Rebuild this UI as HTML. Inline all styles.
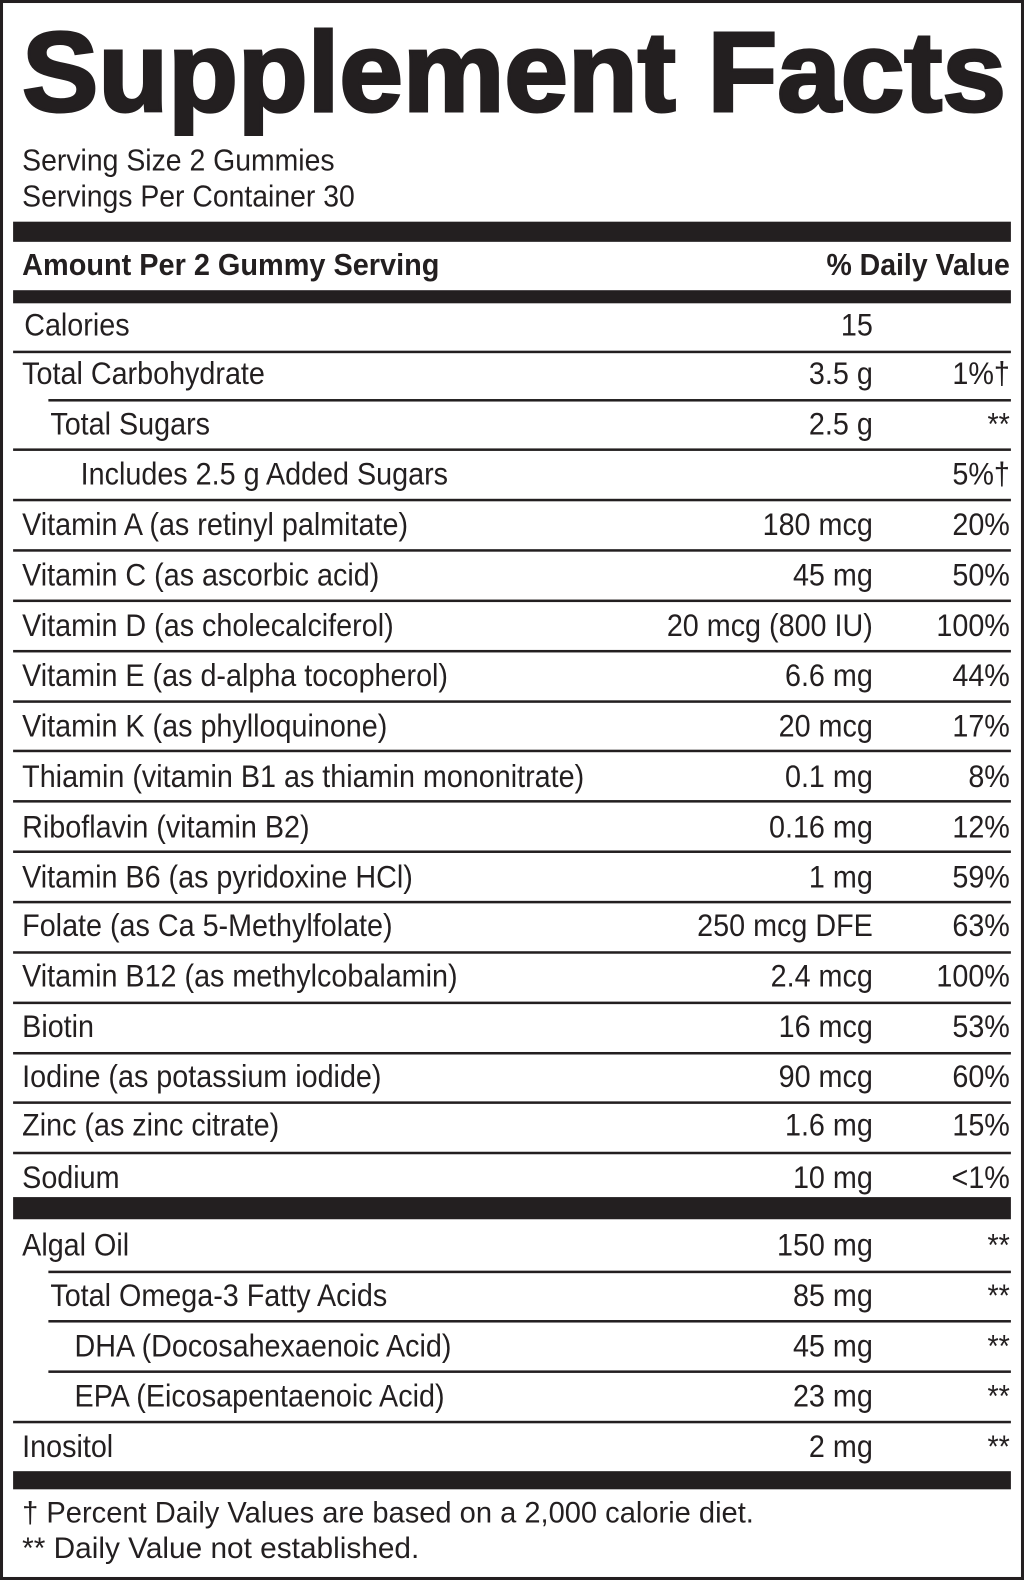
<!DOCTYPE html>
<html><head><meta charset="utf-8"><style>
html,body{margin:0;padding:0;background:#fff;}
svg{display:block;}
text{font-family:"Liberation Sans",sans-serif;fill:#231f20;}
.r{font-size:31px;}
</style></head><body>
<svg width="1024" height="1580" viewBox="0 0 1016 1568" preserveAspectRatio="none" xmlns="http://www.w3.org/2000/svg">
<rect x="1.5" y="1.5" width="1013" height="1565" fill="#fff" stroke="#231f20" stroke-width="3"/>
<text x="22" y="110" font-size="112" font-weight="bold" stroke="#231f20" stroke-width="3" textLength="976" lengthAdjust="spacingAndGlyphs">Supplement Facts</text>
<text x="22" y="169" font-size="30" textLength="310" lengthAdjust="spacingAndGlyphs">Serving Size 2 Gummies</text>
<text x="22" y="205" font-size="30" textLength="330" lengthAdjust="spacingAndGlyphs">Servings Per Container 30</text>
<rect x="13" y="220" width="990" height="20" fill="#231f20"/>
<text x="22" y="273" font-size="30" font-weight="bold" textLength="414" lengthAdjust="spacingAndGlyphs">Amount Per 2 Gummy Serving</text>
<text x="1002" y="273" font-size="30" font-weight="bold" text-anchor="end" textLength="182" lengthAdjust="spacingAndGlyphs">% Daily Value</text>
<rect x="13" y="288" width="990" height="13" fill="#231f20"/>
<g fill="#231f20">
<rect x="13" y="348" width="990" height="2.5"/>
<rect x="48" y="396" width="955" height="2.5"/>
<rect x="13" y="445" width="990" height="2.5"/>
<rect x="13" y="495" width="990" height="2.5"/>
<rect x="13" y="545" width="990" height="2.5"/>
<rect x="13" y="595" width="990" height="2.5"/>
<rect x="13" y="645" width="990" height="2.5"/>
<rect x="13" y="695" width="990" height="2.5"/>
<rect x="13" y="744" width="990" height="2.5"/>
<rect x="13" y="794" width="990" height="2.5"/>
<rect x="13" y="844" width="990" height="2.5"/>
<rect x="13" y="894" width="990" height="2.5"/>
<rect x="13" y="944" width="990" height="2.5"/>
<rect x="13" y="994" width="990" height="2.5"/>
<rect x="13" y="1044" width="990" height="2.5"/>
<rect x="13" y="1093" width="990" height="2.5"/>
<rect x="13" y="1143" width="990" height="2.5"/>
<rect x="13" y="1188" width="990" height="22"/>
<rect x="48" y="1261" width="955" height="2.5"/>
<rect x="48" y="1310" width="955" height="2.5"/>
<rect x="48" y="1360" width="955" height="2.5"/>
<rect x="13" y="1410" width="990" height="2.5"/>
<rect x="13" y="1460" width="990" height="18"/>
</g>
<g class="r" transform="scale(0.92,1)">
<text x="26.1" y="333">Calories</text><text x="941.3" y="333" text-anchor="end">15</text>
<text x="23.9" y="381">Total Carbohydrate</text><text x="941.3" y="381" text-anchor="end">3.5 g</text><text x="1089.1" y="381" text-anchor="end">1%†</text>
<text x="54.3" y="431">Total Sugars</text><text x="941.3" y="431" text-anchor="end">2.5 g</text><text x="1089.1" y="431" text-anchor="end">**</text>
<text x="87" y="481">Includes 2.5 g Added Sugars</text><text x="1089.1" y="481" text-anchor="end">5%†</text>
<text x="23.9" y="531">Vitamin A (as retinyl palmitate)</text><text x="941.3" y="531" text-anchor="end">180 mcg</text><text x="1089.1" y="531" text-anchor="end">20%</text>
<text x="23.9" y="581">Vitamin C (as ascorbic acid)</text><text x="941.3" y="581" text-anchor="end">45 mg</text><text x="1089.1" y="581" text-anchor="end">50%</text>
<text x="23.9" y="631">Vitamin D (as cholecalciferol)</text><text x="941.3" y="631" text-anchor="end">20 mcg (800 IU)</text><text x="1089.1" y="631" text-anchor="end">100%</text>
<text x="23.9" y="681">Vitamin E (as d-alpha tocopherol)</text><text x="941.3" y="681" text-anchor="end">6.6 mg</text><text x="1089.1" y="681" text-anchor="end">44%</text>
<text x="23.9" y="731">Vitamin K (as phylloquinone)</text><text x="941.3" y="731" text-anchor="end">20 mcg</text><text x="1089.1" y="731" text-anchor="end">17%</text>
<text x="23.9" y="781">Thiamin (vitamin B1 as thiamin mononitrate)</text><text x="941.3" y="781" text-anchor="end">0.1 mg</text><text x="1089.1" y="781" text-anchor="end">8%</text>
<text x="23.9" y="831">Riboflavin (vitamin B2)</text><text x="941.3" y="831" text-anchor="end">0.16 mg</text><text x="1089.1" y="831" text-anchor="end">12%</text>
<text x="23.9" y="881">Vitamin B6 (as pyridoxine HCl)</text><text x="941.3" y="881" text-anchor="end">1 mg</text><text x="1089.1" y="881" text-anchor="end">59%</text>
<text x="23.9" y="929">Folate (as Ca 5-Methylfolate)</text><text x="941.3" y="929" text-anchor="end">250 mcg DFE</text><text x="1089.1" y="929" text-anchor="end">63%</text>
<text x="23.9" y="979">Vitamin B12 (as methylcobalamin)</text><text x="941.3" y="979" text-anchor="end">2.4 mcg</text><text x="1089.1" y="979" text-anchor="end">100%</text>
<text x="23.9" y="1029">Biotin</text><text x="941.3" y="1029" text-anchor="end">16 mcg</text><text x="1089.1" y="1029" text-anchor="end">53%</text>
<text x="23.9" y="1079">Iodine (as potassium iodide)</text><text x="941.3" y="1079" text-anchor="end">90 mcg</text><text x="1089.1" y="1079" text-anchor="end">60%</text>
<text x="23.9" y="1127">Zinc (as zinc citrate)</text><text x="941.3" y="1127" text-anchor="end">1.6 mg</text><text x="1089.1" y="1127" text-anchor="end">15%</text>
<text x="23.9" y="1179">Sodium</text><text x="941.3" y="1179" text-anchor="end">10 mg</text><text x="1089.1" y="1179" text-anchor="end">&lt;1%</text>
<text x="23.9" y="1246">Algal Oil</text><text x="941.3" y="1246" text-anchor="end">150 mg</text><text x="1089.1" y="1246" text-anchor="end">**</text>
<text x="54.3" y="1296">Total Omega-3 Fatty Acids</text><text x="941.3" y="1296" text-anchor="end">85 mg</text><text x="1089.1" y="1296" text-anchor="end">**</text>
<text x="80.4" y="1346">DHA (Docosahexaenoic Acid)</text><text x="941.3" y="1346" text-anchor="end">45 mg</text><text x="1089.1" y="1346" text-anchor="end">**</text>
<text x="80.4" y="1396">EPA (Eicosapentaenoic Acid)</text><text x="941.3" y="1396" text-anchor="end">23 mg</text><text x="1089.1" y="1396" text-anchor="end">**</text>
<text x="23.9" y="1446">Inositol</text><text x="941.3" y="1446" text-anchor="end">2 mg</text><text x="1089.1" y="1446" text-anchor="end">**</text>
</g>
<text x="22" y="1511" font-size="29" textLength="726" lengthAdjust="spacingAndGlyphs">† Percent Daily Values are based on a 2,000 calorie diet.</text>
<text x="22" y="1546" font-size="29" textLength="394" lengthAdjust="spacingAndGlyphs">** Daily Value not established.</text>
</svg>
</body></html>
